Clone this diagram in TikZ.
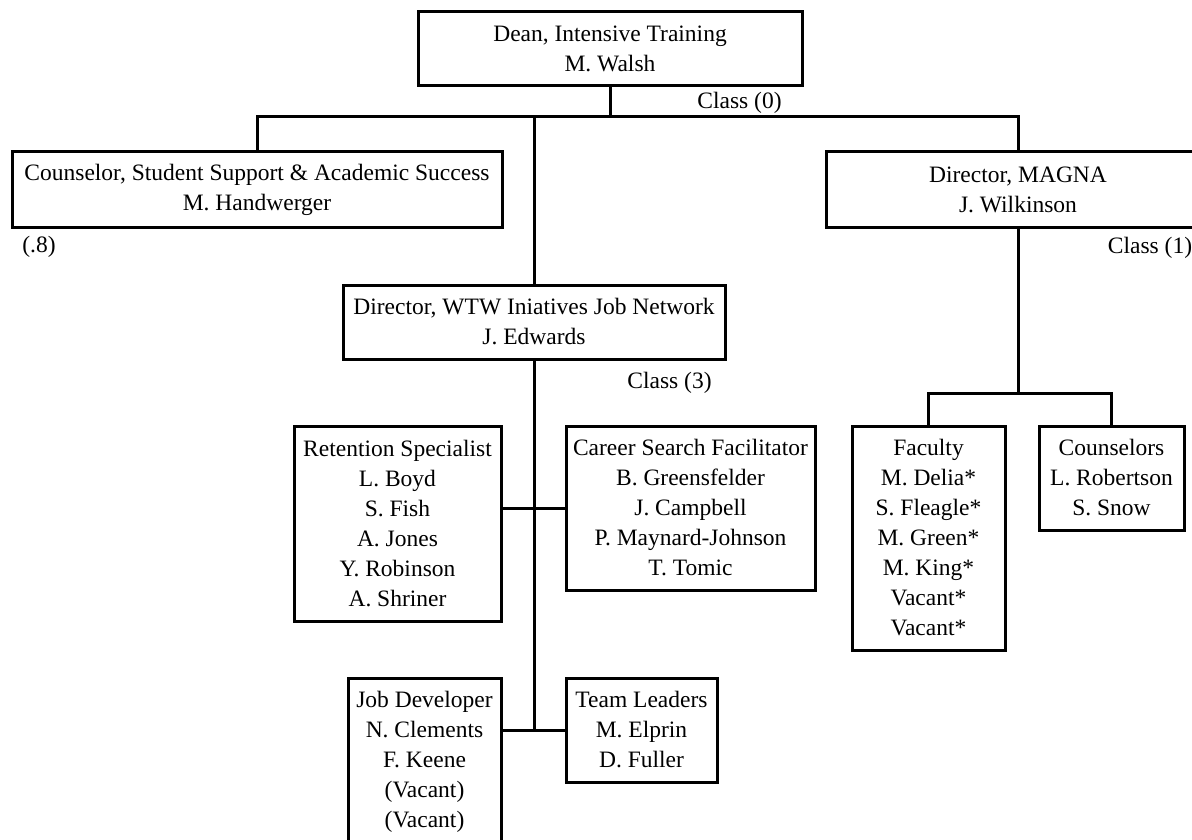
\documentclass[tikz,border=0pt]{standalone}
\usepackage{fontspec}
\setmainfont{Liberation Serif}
\usepackage{tikz}
\usetikzlibrary{positioning}

\begin{document}
\begin{tikzpicture}[
    x=1pt, y=-1pt,
    unit/.style={draw, rectangle, line width=3pt, inner sep=0pt, align=center,
        font=\fontsize{23.5}{30}\selectfont},
    note/.style={inner sep=0pt, font=\fontsize{23.5}{30}\selectfont},
    link/.style={line width=3pt},
]
\useasboundingbox (0,0) rectangle (1192,840);
\clip (0,0) rectangle (1192,840);

\node[unit, minimum width=384, minimum height=74] (dean) at (610,49) {Dean, Intensive Training\\M. Walsh};
\node[unit, minimum width=490, minimum height=75] (couns) at (257,189.5) {Counselor, Student Support \& Academic Success\\M. Handwerger};
\node[unit, minimum width=384, minimum height=75] (magna) at (1018,189.5) {Director, MAGNA\\J. Wilkinson};
\node[unit, minimum width=382, minimum height=74] (wtw) at (534,322) {Director, WTW Iniatives Job Network\\J. Edwards};

\node[unit, minimum width=207, minimum height=195] (ret) at (397.5,523.5) {Retention Specialist\\L. Boyd\\S. Fish\\A. Jones\\Y. Robinson\\A. Shriner};
\node[unit, minimum width=249, minimum height=164] (career) at (690.5,508) {Career Search Facilitator\\B. Greensfelder\\J. Campbell\\P. Maynard-Johnson\\T. Tomic};
\node[unit, minimum width=153, minimum height=167] (jobdev) at (424.5,761.5) {Job Developer\\N. Clements\\F. Keene\\(Vacant)\\(Vacant)};
\node[unit, minimum width=151, minimum height=104] (team) at (641.5,730) {Team Leaders\\M. Elprin\\D. Fuller};

\node[unit, minimum width=153, minimum height=224] (fac) at (928.5,538) {Faculty\\M. Delia*\\S. Fleagle*\\M. Green*\\M. King*\\Vacant*\\Vacant*};
\node[unit, minimum width=145, minimum height=104] (cnsl) at (1111.5,478) {Counselors\\L. Robertson\\S. Snow};

\node[note] (cls0) at (739.5,103) {Class (0)};
\node[note] (cls1) at (1150,248) {Class (1)};
\node[note] (cls3) at (669.5,383) {Class (3)};
\node[note] (pt8) at (39,247) {(.8)};

\coordinate (bar) at (610,117);
\coordinate (fork) at (1018,393);
\coordinate (spine) at (534,730);

\draw[link] (dean.south) -- (bar);
\draw[link] (couns.north) |- (bar) -| (magna.north);
\draw[link] (wtw.north) -- (wtw.north |- bar);
\draw[link] (wtw.south) -- (spine);
\draw[link] (ret.east |- career.west) -- (career.west);
\draw[link] (jobdev.east |- team.west) -- (team.west);
\draw[link] (magna.south) -- (fork);
\draw[link] (fac.north) |- (fork) -| (cnsl.north);
\end{tikzpicture}
\end{document}
